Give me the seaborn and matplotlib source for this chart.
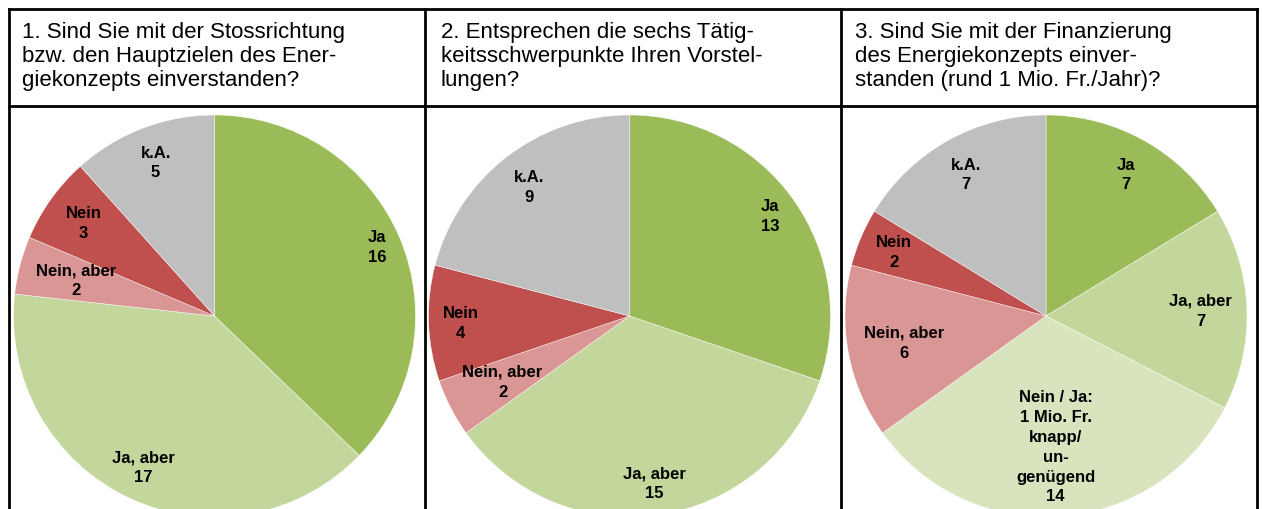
import numpy as np
import matplotlib
matplotlib.use("Agg")
import matplotlib.pyplot as plt
from matplotlib.lines import Line2D
import seaborn as sns

# ---------------- data ----------------
titles = [
    "1. Sind Sie mit der Stossrichtung\nbzw. den Hauptzielen des Ener-\ngiekonzepts einverstanden?",
    "2. Entsprechen die sechs Tätig-\nkeitsschwerpunkte Ihren Vorstel-\nlungen?",
    "3. Sind Sie mit der Finanzierung\ndes Energiekonzepts einver-\nstanden (rund 1 Mio. Fr./Jahr)?",
]
cats1 = ["Ja", "Ja, aber", "Nein, aber", "Nein", "k.A."]
vals1 = [16, 17, 2, 3, 5]
cats2 = ["Ja", "Ja, aber", "Nein, aber", "Nein", "k.A."]
vals2 = [13, 15, 2, 4, 9]
cats3 = ["Ja", "Ja, aber", "Nein / Ja:\n1 Mio. Fr.\nknapp/\nun-\ngenügend", "Nein, aber", "Nein", "k.A."]
vals3 = [7, 7, 14, 6, 2, 7]

# ---------------- style ----------------
sns.set_style("white")
plt.rcParams["font.family"] = ["Liberation Sans", "DejaVu Sans"]

color_map = {
    "Ja": "#9BBB59",
    "Ja, aber": "#C3D69B",
    "Nein / Ja:\n1 Mio. Fr.\nknapp/\nun-\ngenügend": "#D7E4BD",
    "Nein, aber": "#D99694",
    "Nein": "#C0504D",
    "k.A.": "#BFBFBF",
}
label_radii = [
    [0.88, 0.83, 0.71, 0.80, 0.82],
    [0.86, 0.84, 0.71, 0.84, 0.815],
    [0.81, 0.77, 0.65, 0.72, 0.82, 0.81],
]

W, H = 1262, 510
fig = plt.figure(figsize=(W / 100, H / 100), dpi=100)
fig.patch.set_facecolor("white")

centers = [(214.5, 317), (629.5, 317), (1046, 317)]
R = 201
title_x = [22, 441, 855]

datasets = [(cats1, vals1), (cats2, vals2), (cats3, vals3)]
for i, ((cats, vals), (cx, cy)) in enumerate(zip(datasets, centers)):
    ax = fig.add_axes([(cx - R) / W, (H - (cy + R)) / H, 2 * R / W, 2 * R / H])
    cols = sns.color_palette([color_map[c] for c in cats])
    wedges, _ = ax.pie(vals, colors=cols, startangle=90, counterclock=False,
                       radius=1, wedgeprops=dict(edgecolor="white", linewidth=0.3))
    ax.set_xlim(-1, 1)
    ax.set_ylim(-1, 1)
    ax.set_aspect("equal")
    ax.axis("off")
    for w, c, v, r in zip(wedges, cats, vals, label_radii[i]):
        ang = np.deg2rad((w.theta1 + w.theta2) / 2)
        ax.text(r * np.cos(ang), r * np.sin(ang), f"{c}\n{v}", ha="center", va="center",
                fontsize=12, fontweight="bold", color="black", linespacing=1.4)
    fig.text(title_x[i] / W, 1 - 22 / H, titles[i], ha="left", va="top",
             fontsize=16, color="black", linespacing=1.2)

# ---------------- table borders ----------------
lw = 2.0
def hline(y, x0, x1):
    fig.add_artist(Line2D([x0 / W, x1 / W], [1 - y / H, 1 - y / H], color="black", lw=lw,
                          transform=fig.transFigure, solid_capstyle="projecting"))
def vline(x, y0, y1):
    fig.add_artist(Line2D([x / W, x / W], [1 - y0 / H, 1 - y1 / H], color="black", lw=lw,
                          transform=fig.transFigure, solid_capstyle="projecting"))

hline(10, 9, 1257)
hline(106.5, 9, 1257)
for x in [9, 425, 841, 1257]:
    vline(x, 10, 512)

fig.savefig("out.png", dpi=100, facecolor="white")
